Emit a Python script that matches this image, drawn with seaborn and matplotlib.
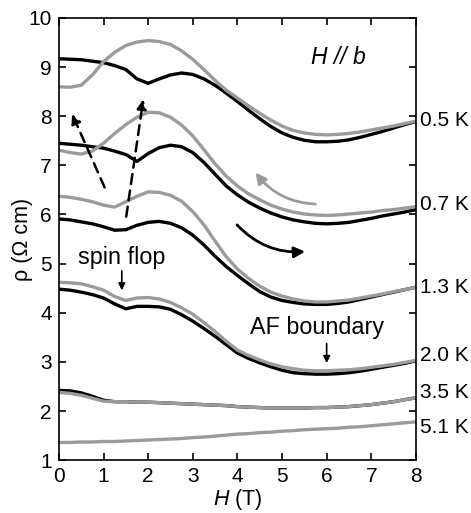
import numpy as np
import pandas as pd
import seaborn as sns
import matplotlib.pyplot as plt
from matplotlib.patches import FancyArrowPatch

sns.set_style("ticks")
plt.rcParams['font.family'] = ['Liberation Sans', 'DejaVu Sans']
plt.rcParams['mathtext.fontset'] = 'custom'
plt.rcParams['mathtext.it'] = 'Liberation Sans:italic'
plt.rcParams['mathtext.rm'] = 'Liberation Sans'
plt.rcParams['font.size'] = 15
plt.rcParams['text.color'] = 'black'
plt.rcParams['axes.labelcolor'] = 'black'
plt.rcParams['xtick.color'] = 'black'
plt.rcParams['ytick.color'] = 'black'
plt.rcParams['axes.edgecolor'] = 'black'

# field grid (T)
H = np.arange(0, 8.01, 0.25)

# resistivity (Ohm cm), black = up sweep, gray = down sweep
rho_05_up = [9.17, 9.16, 9.15, 9.12, 9.09, 9.03, 8.95, 8.76, 8.67, 8.76, 8.84, 8.88, 8.85,
             8.76, 8.63, 8.47, 8.30, 8.12, 7.95, 7.79, 7.66, 7.57, 7.51, 7.48, 7.48, 7.49,
             7.52, 7.57, 7.63, 7.69, 7.76, 7.83, 7.89]
rho_05_dn = [8.60, 8.59, 8.63, 8.84, 9.11, 9.30, 9.44, 9.51, 9.54, 9.52, 9.46, 9.33, 9.16,
             8.95, 8.73, 8.53, 8.37, 8.21, 8.06, 7.92, 7.80, 7.71, 7.66, 7.63, 7.62, 7.63,
             7.65, 7.68, 7.72, 7.76, 7.80, 7.85, 7.90]
rho_07_up = [7.45, 7.43, 7.41, 7.38, 7.35, 7.29, 7.22, 7.08, 7.24, 7.36, 7.41, 7.38, 7.26,
             7.06, 6.82, 6.58, 6.40, 6.25, 6.13, 6.03, 5.95, 5.89, 5.85, 5.82, 5.81, 5.82,
             5.84, 5.88, 5.92, 5.97, 6.01, 6.05, 6.10]
rho_07_dn = [7.31, 7.26, 7.23, 7.29, 7.45, 7.65, 7.83, 7.98, 8.08, 8.07, 7.98, 7.82, 7.60,
             7.32, 7.03, 6.78, 6.58, 6.42, 6.30, 6.19, 6.11, 6.05, 6.01, 5.99, 5.98, 5.99,
             6.01, 6.03, 6.05, 6.08, 6.10, 6.13, 6.16]
rho_13_up = [5.91, 5.89, 5.85, 5.81, 5.75, 5.68, 5.69, 5.78, 5.84, 5.86, 5.82, 5.73, 5.58,
             5.38, 5.15, 4.94, 4.76, 4.59, 4.43, 4.32, 4.25, 4.21, 4.18, 4.17, 4.17, 4.19,
             4.22, 4.27, 4.32, 4.37, 4.42, 4.47, 4.52]
rho_13_dn = [6.37, 6.35, 6.31, 6.26, 6.19, 6.15, 6.26, 6.37, 6.46, 6.45, 6.39, 6.27, 6.06,
             5.79, 5.46, 5.14, 4.89, 4.70, 4.54, 4.42, 4.34, 4.28, 4.24, 4.22, 4.22, 4.24,
             4.26, 4.30, 4.34, 4.38, 4.43, 4.47, 4.52]
rho_20_up = [4.48, 4.46, 4.42, 4.37, 4.30, 4.18, 4.08, 4.13, 4.13, 4.12, 4.07, 3.96, 3.83,
             3.68, 3.52, 3.35, 3.18, 3.07, 2.98, 2.90, 2.83, 2.78, 2.76, 2.75, 2.75, 2.76,
             2.78, 2.81, 2.85, 2.89, 2.93, 2.97, 3.02]
rho_20_dn = [4.62, 4.61, 4.59, 4.53, 4.46, 4.33, 4.25, 4.30, 4.31, 4.28, 4.21, 4.10, 3.97,
             3.80, 3.62, 3.42, 3.24, 3.13, 3.04, 2.96, 2.90, 2.86, 2.83, 2.82, 2.82, 2.83,
             2.84, 2.86, 2.89, 2.92, 2.95, 2.99, 3.03]
rho_35_up = [2.42, 2.41, 2.37, 2.30, 2.22, 2.19, 2.19, 2.18, 2.18, 2.17, 2.16, 2.15, 2.14,
             2.13, 2.12, 2.11, 2.09, 2.08, 2.07, 2.06, 2.06, 2.06, 2.06, 2.07, 2.07, 2.08,
             2.09, 2.11, 2.13, 2.16, 2.19, 2.23, 2.27]
rho_35_dn = [2.38, 2.36, 2.32, 2.26, 2.20, 2.19, 2.19, 2.18, 2.18, 2.17, 2.16, 2.15, 2.14,
             2.13, 2.12, 2.11, 2.09, 2.08, 2.07, 2.06, 2.06, 2.06, 2.06, 2.07, 2.07, 2.08,
             2.09, 2.11, 2.13, 2.16, 2.19, 2.23, 2.27]
rho_51_dn = [1.36, 1.36, 1.37, 1.37, 1.38, 1.38, 1.39, 1.40, 1.41, 1.42, 1.43, 1.44, 1.46,
             1.47, 1.49, 1.51, 1.53, 1.54, 1.56, 1.57, 1.59, 1.60, 1.62, 1.63, 1.64, 1.65,
             1.67, 1.68, 1.70, 1.72, 1.74, 1.76, 1.78]

temps = ['0.5 K', '0.7 K', '1.3 K', '2.0 K', '3.5 K', '5.1 K']
label_y = [7.92, 6.21, 4.52, 3.14, 2.38, 1.67]

gray = '#9b9b9b'
curves = [
    (rho_05_up, 'black'), (rho_05_dn, gray),
    (rho_07_up, 'black'), (rho_07_dn, gray),
    (rho_13_up, 'black'), (rho_13_dn, gray),
    (rho_20_up, 'black'), (rho_20_dn, gray),
    (rho_35_up, 'black'), (rho_35_dn, gray),
    (rho_51_dn, gray),
]

fig, ax = plt.subplots(figsize=(4.71, 5.13), dpi=100)
fig.subplots_adjust(left=0.125, right=0.883, top=0.965, bottom=0.103)

for rho, c in curves:
    sns.lineplot(x=H, y=rho, color=c, lw=2.4, ax=ax, estimator=None, sort=False)

ax.set_xlim(0, 8)
ax.set_ylim(1, 10)
ax.set_xticks(range(0, 9))
ax.set_yticks(range(1, 11))
ax.tick_params(direction='in', top=True, right=True, length=5, width=1.2,
               labelsize=15, pad=5)
for s in ax.spines.values():
    s.set_linewidth(1.2)
    s.set_visible(True)

ax.set_xlabel('$H$ (T)', fontsize=15.5, labelpad=0.5)
ax.set_ylabel('ρ (Ω cm)', fontsize=15.5)
ax.yaxis.set_label_coords(-0.073, 0.5)

for t, y in zip(temps, label_y):
    ax.text(8.1, y, t, va='center', ha='left', fontsize=15, clip_on=False)

ax.text(6.26, 9.19, 'H // b', style='italic', ha='center', va='center', fontsize=16.5)
ax.text(1.41, 5.13, 'spin flop', ha='center', va='center', fontsize=16.8)
ax.text(5.78, 3.69, 'AF boundary', ha='center', va='center', fontsize=16.8)

arr = dict(arrowstyle='-|>', color='black', lw=1.2, mutation_scale=10)
ax.annotate('', xy=(1.41, 4.4), xytext=(1.41, 4.91), arrowprops=arr)
ax.annotate('', xy=(6.0, 2.92), xytext=(6.0, 3.43), arrowprops=arr)

dash = dict(arrowstyle='-|>', color='black', lw=1.8, linestyle=(0, (4, 2.6)),
            mutation_scale=14)
ax.annotate('', xy=(0.27, 8.1), xytext=(1.05, 6.5), arrowprops=dash)
ax.annotate('', xy=(1.9, 8.4), xytext=(1.5, 5.9), arrowprops=dash)

ax.add_patch(FancyArrowPatch((3.95, 5.83), (5.58, 5.25), connectionstyle='arc3,rad=0.25',
                             arrowstyle='-|>', mutation_scale=16, color='black', lw=2))
ax.add_patch(FancyArrowPatch((5.81, 6.21), (4.37, 6.9), connectionstyle='arc3,rad=-0.25',
                             arrowstyle='-|>', mutation_scale=16, color=gray, lw=2))

fig.savefig('out.png', dpi=100)
